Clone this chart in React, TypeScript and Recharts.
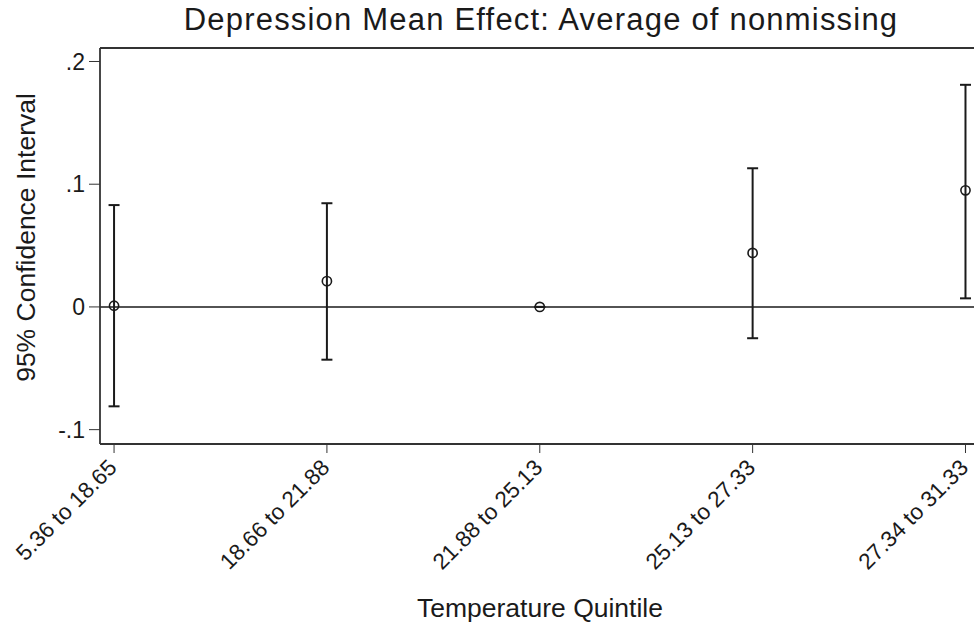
import React from "react";
import {
  ComposedChart, Scatter, ErrorBar, XAxis, YAxis, ReferenceLine,
} from "recharts";

const quintiles = ["5.36 to 18.65", "18.66 to 21.88", "21.88 to 25.13", "25.13 to 27.33", "27.34 to 31.33"];
const means = [0.001, 0.021, 0.0, 0.044, 0.095];
const lows = [-0.081, -0.043, 0.0, -0.0255, 0.007];
const highs = [0.083, 0.0845, 0.0, 0.113, 0.181];
const yTicks = [-0.1, 0, 0.1, 0.2];
const Y_DOMAIN = [-0.1117, 0.211];
const X_DOMAIN = [0.934, 5.04];

const data = quintiles.map((q, i) => ({
  idx: i + 1,
  label: q,
  mean: means[i],
  err: [means[i] - lows[i], highs[i] - means[i]],
}));

const FONT = "'Liberation Sans', Arial, sans-serif";
const INK = "#1a1a1a";
const FRAME = "#333";

const fmtY = (v: number) => (v === 0 ? "0" : String(v).replace(/^(-?)0\./, "$1."));

// rotated category labels, ending just under the tick
function QuintileTick(props: any) {
  const { x, y, payload } = props;
  const label = quintiles[payload.value - 1] ?? "";
  const ax = x + 4;
  const ay = y + 14;
  return (
    <text
      x={ax}
      y={ay}
      transform={`rotate(-45, ${ax}, ${ay})`}
      textAnchor="end"
      fontSize={22.5}
      fontFamily={FONT}
      fill={INK}
    >
      {label}
    </text>
  );
}

function Dot(props: any) {
  const { cx, cy } = props;
  return <circle cx={cx} cy={cy} r={4.6} fill="none" stroke={INK} strokeWidth={1.6} />;
}

export default function App() {
  return (
    <div style={{ position: "absolute", left: 0, top: 0, width: 974, height: 627, background: "#fff" }}>
      <ComposedChart width={974} height={627} data={data} margin={{ top: 48, right: 0, bottom: 0, left: 0 }}>
        <XAxis
          dataKey="idx"
          type="number"
          domain={X_DOMAIN}
          ticks={[1, 2, 3, 4, 5]}
          height={183}
          tick={<QuintileTick />}
          tickSize={9}
          tickLine={{ stroke: FRAME, strokeWidth: 1 }}
          axisLine={{ stroke: FRAME, strokeWidth: 1.8 }}
        />
        <YAxis
          type="number"
          domain={Y_DOMAIN}
          ticks={yTicks}
          tickFormatter={fmtY}
          width={100}
          tickSize={11}
          tickMargin={4}
          tick={{ fontSize: 23, fontFamily: FONT, fill: INK }}
          tickLine={{ stroke: FRAME, strokeWidth: 1 }}
          axisLine={{ stroke: FRAME, strokeWidth: 1.8 }}
        />
        <ReferenceLine y={Y_DOMAIN[1]} stroke={FRAME} strokeWidth={1.8} />
        <ReferenceLine y={0} stroke={INK} strokeWidth={1.6} />
        <Scatter dataKey="mean" shape={<Dot />} isAnimationActive={false}>
          <ErrorBar dataKey="err" direction="y" width={5.5} stroke={INK} strokeWidth={2} />
        </Scatter>
      </ComposedChart>
      <svg width={974} height={627} style={{ position: "absolute", left: 0, top: 0, pointerEvents: "none" }}>
        <text x={541} y={29.5} textAnchor="middle" fontSize={31} letterSpacing={1.2} fontFamily={FONT} fill={INK}>
          Depression Mean Effect: Average of nonmissing
        </text>
        <text
          x={35}
          y={237.5}
          transform="rotate(-90, 35, 237.5)"
          textAnchor="middle"
          fontSize={26.5}
          fontFamily={FONT}
          fill={INK}
        >
          95% Confidence Interval
        </text>
        <text x={540} y={617} textAnchor="middle" fontSize={26.5} fontFamily={FONT} fill={INK}>
          Temperature Quintile
        </text>
      </svg>
    </div>
  );
}
